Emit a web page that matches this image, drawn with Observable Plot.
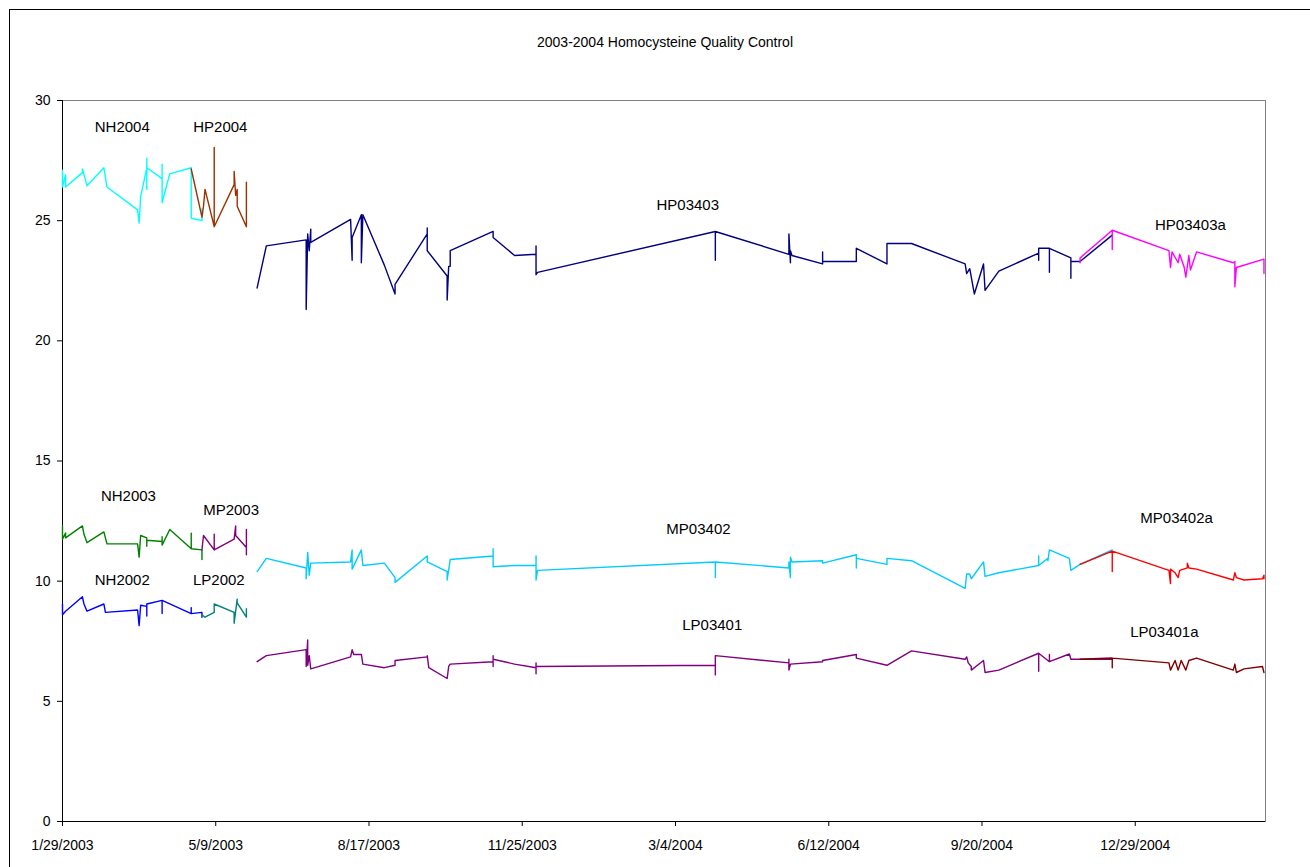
<!DOCTYPE html>
<html><head><meta charset="utf-8">
<script src="https://cdn.jsdelivr.net/npm/d3@7"></script>
<script src="https://cdn.jsdelivr.net/npm/@observablehq/plot@0.6"></script>
<style>
body{margin:0;background:#fff;overflow:hidden;font-family:"Liberation Sans",Arial,sans-serif;}
#wrap{position:relative;width:1310px;height:867px;overflow:hidden;background:#fff;}
#border{position:absolute;left:9px;top:9px;width:1400px;height:1000px;border:1px solid #000;z-index:2;pointer-events:none;}
#title{position:absolute;left:10px;width:1310px;top:34px;text-align:center;font-size:14px;color:#000;}
#chart{position:absolute;left:0;top:60px;z-index:1;}
</style></head><body>
<div id="wrap"><div id="border"></div><div id="title">2003-2004 Homocysteine Quality Control</div><div id="chart"></div></div>
<script>
const xStart = "2003-01-29", xEnd = "2005-03-24";
const tickLabels = ["1/29/2003","5/9/2003","8/17/2003","11/25/2003","3/4/2004","6/12/2004","9/20/2004","12/29/2004"];
const yTicks = [0,5,10,15,20,25,30];

const NH2004 = [["2003-01-29",27.1],["2003-01-29",26.4],["2003-01-31",26.9],["2003-01-31",26.4],["2003-02-11",27.0],["2003-02-11",27.15],["2003-02-14",26.45],["2003-02-25",27.2],["2003-02-27",26.4],["2003-03-19",25.45],["2003-03-20",24.9],["2003-03-21",26.0],["2003-03-25",27.2],["2003-03-25",27.6],["2003-03-25",26.3],["2003-03-25",27.2],["2003-04-04",26.75],["2003-04-04",27.35],["2003-04-04",25.75],["2003-04-09",26.95],["2003-04-23",27.2],["2003-04-23",25.1],["2003-04-30",25.0],["2003-04-30",25.5]];
const HP2004 = [["2003-04-23",27.15],["2003-04-30",25.15],["2003-05-01",25.6],["2003-05-02",26.3],["2003-05-08",24.75],["2003-05-08",28.05],["2003-05-08",24.75],["2003-05-21",26.5],["2003-05-21",27.05],["2003-05-22",26.05],["2003-05-23",26.3],["2003-05-23",25.6],["2003-05-29",24.75],["2003-05-29",26.6]];
const HP03403 = [["2003-06-05",22.2],["2003-06-11",23.95],["2003-07-07",24.2],["2003-07-07",21.3],["2003-07-08",24.45],["2003-07-09",23.75],["2003-07-10",24.65],["2003-07-10",24.1],["2003-08-05",25.05],["2003-08-06",23.35],["2003-08-06",24.3],["2003-08-12",25.25],["2003-08-12",23.25],["2003-08-13",25.25],["2003-08-27",23.15],["2003-09-03",21.95],["2003-09-03",22.35],["2003-09-24",24.45],["2003-09-24",24.7],["2003-09-24",23.75],["2003-10-07",22.7],["2003-10-07",21.7],["2003-10-08",23.1],["2003-10-09",23.1],["2003-10-09",23.75],["2003-11-06",24.55],["2003-11-06",24.3],["2003-11-20",23.55],["2003-12-04",23.6],["2003-12-04",23.95],["2003-12-04",22.75],["2003-12-05",22.85],["2004-03-30",24.55],["2004-03-30",23.35],["2004-03-30",24.55],["2004-05-17",23.6],["2004-05-17",24.45],["2004-05-18",23.25],["2004-05-18",23.75],["2004-05-19",23.55],["2004-06-08",23.2],["2004-06-08",23.7],["2004-06-08",23.3],["2004-06-30",23.3],["2004-06-30",23.85],["2004-07-20",23.2],["2004-07-20",24.05],["2004-08-05",24.05],["2004-09-09",23.2],["2004-09-10",22.8],["2004-09-12",23.0],["2004-09-15",21.95],["2004-09-21",23.2],["2004-09-22",22.1],["2004-10-01",22.9],["2004-10-27",23.65],["2004-10-27",23.35],["2004-10-27",23.85],["2004-11-03",23.85],["2004-11-03",22.85],["2004-11-03",23.85],["2004-11-17",23.45],["2004-11-17",22.6],["2004-11-17",23.3],["2004-11-23",23.3],["2004-12-14",24.4]];
const HP03403a = [["2004-11-23",23.25],["2004-11-23",23.45],["2004-12-14",24.6],["2004-12-14",23.8],["2004-12-14",24.6],["2005-01-20",23.75],["2005-01-21",23.05],["2005-01-22",23.7],["2005-01-26",23.25],["2005-01-27",23.6],["2005-01-30",23.05],["2005-01-31",22.65],["2005-02-02",23.55],["2005-02-03",22.95],["2005-02-07",23.7],["2005-03-03",23.25],["2005-03-04",23.3],["2005-03-04",22.25],["2005-03-05",23.05],["2005-03-23",23.4],["2005-03-23",22.8]];
const NH2003 = [["2003-01-29",12.3],["2003-01-29",11.75],["2003-01-31",12.0],["2003-01-31",11.8],["2003-02-11",12.3],["2003-02-12",11.95],["2003-02-14",11.6],["2003-02-25",12.05],["2003-02-27",11.55],["2003-03-19",11.55],["2003-03-20",11.0],["2003-03-21",11.9],["2003-03-25",11.8],["2003-03-25",11.45],["2003-03-25",11.7],["2003-04-04",11.65],["2003-04-04",11.85],["2003-04-04",11.5],["2003-04-09",12.15],["2003-04-23",11.35],["2003-04-23",12.0],["2003-04-23",11.35],["2003-04-30",11.3],["2003-04-30",10.9]];
const MP2003 = [["2003-04-30",11.3],["2003-05-01",11.9],["2003-05-08",11.3],["2003-05-08",11.95],["2003-05-08",11.3],["2003-05-21",11.75],["2003-05-22",12.3],["2003-05-22",11.9],["2003-05-29",11.4],["2003-05-29",12.15],["2003-05-29",11.1]];
const NH2002 = [["2003-01-29",9.05],["2003-01-29",8.6],["2003-01-31",8.75],["2003-02-11",9.35],["2003-02-12",9.05],["2003-02-14",8.75],["2003-02-25",9.05],["2003-02-26",8.7],["2003-03-19",8.8],["2003-03-20",8.15],["2003-03-21",9.0],["2003-03-25",8.95],["2003-03-25",8.55],["2003-03-25",9.05],["2003-04-04",9.2],["2003-04-04",8.65],["2003-04-04",9.2],["2003-04-23",8.65],["2003-04-23",8.9],["2003-04-23",8.65],["2003-04-30",8.7],["2003-04-30",8.5]];
const LP2002 = [["2003-04-30",8.6],["2003-05-02",8.5],["2003-05-08",8.7],["2003-05-08",9.05],["2003-05-21",8.7],["2003-05-21",8.25],["2003-05-23",9.25],["2003-05-23",9.1],["2003-05-29",8.5],["2003-05-29",8.85]];
const MP03402 = [["2003-06-05",10.4],["2003-06-11",10.95],["2003-07-07",10.55],["2003-07-07",10.1],["2003-07-08",11.2],["2003-07-09",10.25],["2003-07-10",10.75],["2003-08-05",10.8],["2003-08-06",11.3],["2003-08-06",10.5],["2003-08-12",11.3],["2003-08-13",10.65],["2003-08-27",10.75],["2003-09-03",10.15],["2003-09-03",9.95],["2003-09-24",11.05],["2003-09-24",10.8],["2003-10-07",10.4],["2003-10-07",10.05],["2003-10-09",10.9],["2003-11-06",11.05],["2003-11-06",11.35],["2003-11-06",10.6],["2003-11-20",10.65],["2003-12-04",10.65],["2003-12-04",11.05],["2003-12-04",10.05],["2003-12-05",10.45],["2004-03-30",10.8],["2004-03-30",10.15],["2004-03-30",10.8],["2004-05-17",10.55],["2004-05-17",10.8],["2004-05-18",10.15],["2004-05-18",11.0],["2004-05-19",10.8],["2004-06-08",10.85],["2004-06-08",10.75],["2004-06-30",11.1],["2004-06-30",10.55],["2004-06-30",10.95],["2004-07-20",10.7],["2004-07-20",10.95],["2004-08-05",10.85],["2004-09-09",9.7],["2004-09-10",10.3],["2004-09-12",10.3],["2004-09-13",10.1],["2004-09-21",10.8],["2004-09-22",10.2],["2004-10-01",10.35],["2004-10-27",10.65],["2004-10-27",11.05],["2004-10-27",10.65],["2004-11-02",10.95],["2004-11-02",10.85],["2004-11-03",11.3],["2004-11-16",10.95],["2004-11-17",10.45],["2004-11-23",10.7],["2004-12-14",11.3]];
const MP03402a = [["2004-11-23",10.7],["2004-12-14",11.25],["2004-12-14",10.4],["2004-12-14",11.25],["2005-01-20",10.45],["2005-01-21",9.9],["2005-01-21",10.5],["2005-01-24",10.35],["2005-01-26",10.15],["2005-01-27",10.45],["2005-02-01",10.55],["2005-02-01",10.75],["2005-02-02",10.55],["2005-02-07",10.5],["2005-03-03",10.05],["2005-03-04",10.35],["2005-03-05",10.15],["2005-03-10",10.05],["2005-03-22",10.1],["2005-03-23",10.25],["2005-03-23",10.1]];
const LP03401 = [["2003-06-05",6.65],["2003-06-11",6.9],["2003-07-07",7.15],["2003-07-07",6.45],["2003-07-08",7.55],["2003-07-08",6.5],["2003-07-09",6.9],["2003-07-10",6.35],["2003-08-05",6.85],["2003-08-06",7.15],["2003-08-07",6.95],["2003-08-12",6.95],["2003-08-13",6.55],["2003-08-27",6.4],["2003-09-03",6.5],["2003-09-03",6.7],["2003-09-24",6.85],["2003-09-24",6.9],["2003-09-25",6.4],["2003-10-07",5.95],["2003-10-08",6.45],["2003-10-09",6.55],["2003-11-06",6.65],["2003-11-06",6.9],["2003-11-06",6.45],["2003-11-06",6.75],["2003-11-20",6.55],["2003-12-04",6.4],["2003-12-04",6.6],["2003-12-04",6.15],["2003-12-04",6.45],["2004-03-30",6.5],["2004-03-30",6.1],["2004-03-30",6.9],["2004-05-17",6.6],["2004-05-17",6.75],["2004-05-17",6.3],["2004-05-18",6.55],["2004-06-08",6.65],["2004-06-08",6.7],["2004-06-30",6.95],["2004-06-30",6.8],["2004-07-20",6.5],["2004-08-05",7.1],["2004-09-09",6.75],["2004-09-10",6.85],["2004-09-11",6.6],["2004-09-13",6.45],["2004-09-13",6.3],["2004-09-21",6.7],["2004-09-22",6.2],["2004-10-01",6.3],["2004-10-27",7.0],["2004-10-27",6.25],["2004-10-27",7.0],["2004-11-03",6.65],["2004-11-03",6.95],["2004-11-03",6.65],["2004-11-16",6.97],["2004-11-17",6.75],["2004-11-23",6.75],["2004-12-14",6.75]];
const LP03401a = [["2004-11-23",6.75],["2004-12-14",6.8],["2004-12-14",6.4],["2004-12-14",6.8],["2005-01-20",6.6],["2005-01-21",6.3],["2005-01-24",6.7],["2005-01-26",6.3],["2005-01-28",6.7],["2005-01-31",6.3],["2005-02-02",6.7],["2005-02-07",6.8],["2005-03-03",6.3],["2005-03-04",6.55],["2005-03-05",6.2],["2005-03-10",6.35],["2005-03-22",6.45],["2005-03-23",6.2]];

const seriesNames = ["NH2004","HP2004","HP03403","HP03403a","NH2003","MP2003","NH2002","LP2002","MP03402","MP03402a","LP03401","LP03401a"];
const seriesData = [NH2004,HP2004,HP03403,HP03403a,NH2003,MP2003,NH2002,LP2002,MP03402,MP03402a,LP03401,LP03401a];
const seriesColors = ["#00FFFF","#993300","#000080","#FF00FF","#008000","#800080","#0000FF","#008080","#00CCFF","#FF0000","#800080","#800000"];

const labelNames = ["NH2004","HP2004","HP03403","HP03403a","NH2003","MP2003","NH2002","LP2002","MP03402","MP03402a","LP03401","LP03401a"];
const labelDates = ["2003-03-09","2003-05-12","2004-03-12","2005-02-03","2003-03-13","2003-05-19","2003-03-09","2003-05-11","2004-03-19","2005-01-25","2004-03-28","2005-01-17"];
const labelValues = [28.88,28.88,25.63,24.8,13.52,12.94,10.03,10.03,12.15,12.61,8.16,7.87];

const parse = d3.utcParse("%Y-%m-%d");
const parseTick = d3.utcParse("%m/%d/%Y");
const tickDates = tickLabels.map(parseTick);
const tickMap = new Map(tickDates.map((d,i)=>[+d, tickLabels[i]]));
const labels = labelNames.map((n,i)=>({name:n, date:parse(labelDates[i]), value:labelValues[i]}));
const x0 = parse(xStart);

const plot = Plot.plot({
  width:1310, height:807,
  marginLeft:62, marginRight:45, marginTop:40, marginBottom:46,
  style:{fontFamily:"Liberation Sans, Arial, sans-serif", fontSize:"14px", background:"transparent", color:"#000", overflow:"visible"},
  x:{type:"utc", domain:[x0, parse(xEnd)]},
  y:{domain:[0,30]},
  marks:[
    Plot.frame({stroke:"#808080"}),
    Plot.axisY({ticks:yTicks, tickSize:5, tickPadding:7, fontSize:14, label:null}),
    Plot.axisX({ticks:tickDates, tickFormat:d=>tickMap.get(+d), tickSize:5, tickPadding:14, fontSize:14, label:null}),
    Plot.ruleY([0], {stroke:"#000"}),
    Plot.ruleX([x0], {stroke:"#000"}),
    ...seriesData.map((s,i)=>Plot.line(s.map(([d,v])=>({date:parse(d), value:v})), {x:"date", y:"value", stroke:seriesColors[i], strokeWidth:1.4})),
    Plot.text(labels, {x:"date", y:"value", text:"name", fontSize:15, fill:"#000"})
  ]
});
document.getElementById("chart").appendChild(plot);
</script>
</body></html>
